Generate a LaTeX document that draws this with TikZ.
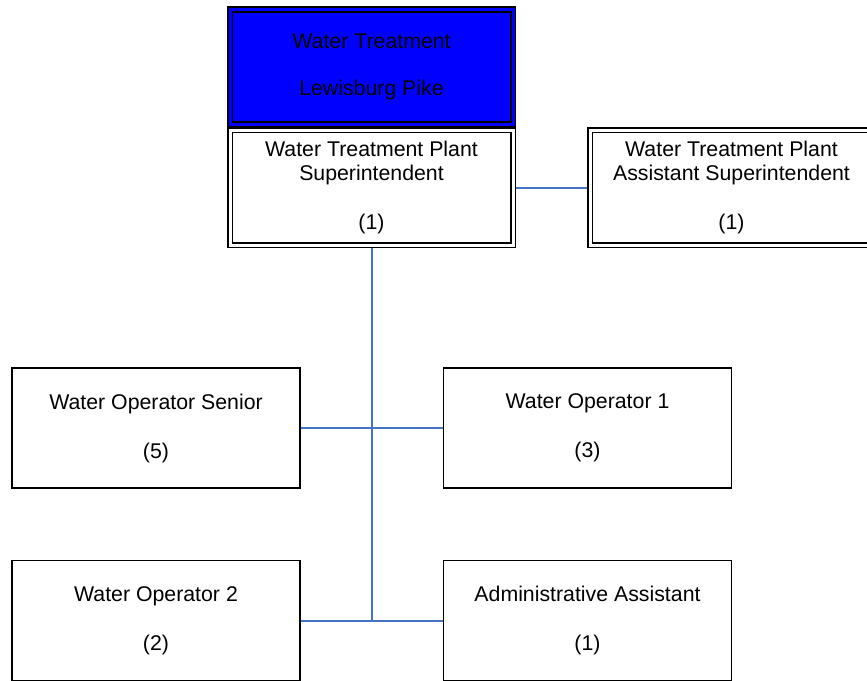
\documentclass[tikz,border=0pt]{standalone}
\usepackage{fontspec}
\setmainfont{Liberation Sans}

\begin{document}
\begin{tikzpicture}[x=1pt, y=-1pt, font=\fontsize{21.3}{24.5}\selectfont,
    box/.style={draw, line width=1.9pt, minimum width=288pt, minimum height=120pt, align=center, inner sep=0pt},
    dbox/.style={draw, line width=1.6pt, double=white, double distance=3pt, outer sep=3pt,
      minimum width=283pt, minimum height=115pt, align=center, inner sep=0pt},
    link/.style={draw=linkblue, line width=2pt}]
  \definecolor{linkblue}{RGB}{68,114,196}
  \clip (0,0) rectangle (867,680);
  \node[dbox, double=blue, fill=blue] (head) at (371.5,67) {Water Treatment\\[22.5pt]Lewisburg Pike};
  \node[dbox] (sup) at (371.5,187.5) {Water Treatment Plant\\Superintendent\\[24.5pt](1)};
  \node[dbox] (asst) at (731.5,187.5) {Water Treatment Plant\\Assistant Superintendent\\[24.5pt](1)};
  \node[box] (senior) at (156,428) {Water Operator Senior\\[24.5pt](5)};
  \node[box] (op1) at (587.5,428) {Water Operator 1\\[24.5pt](3)};
  \node[box] (op2) at (156,620.5) {Water Operator 2\\[24.5pt](2)};
  \node[box] (admin) at (587.5,620.5) {Administrative Assistant\\[24.5pt](1)};
  \draw[link] (sup) -- (asst);
  \draw[link] (sup.south) -- (sup.south |- op2.east);
  \draw[link] (senior) -- (op1);
  \draw[link] (op2) -- (admin);
\end{tikzpicture}
\end{document}
